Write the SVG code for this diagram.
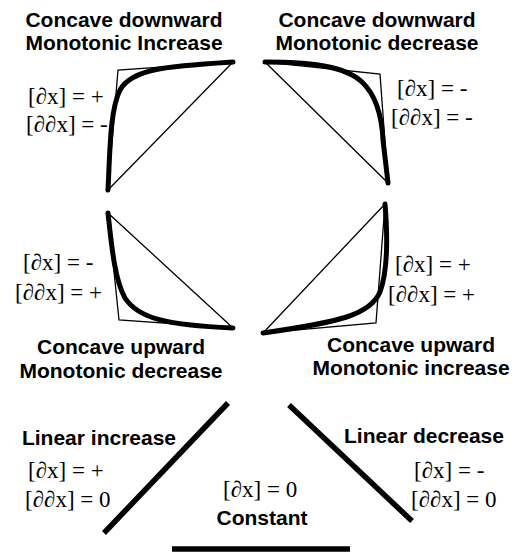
<svg xmlns="http://www.w3.org/2000/svg" width="519" height="560" viewBox="0 0 519 560">
<style>
.t{font-family:"Liberation Sans",Arial,sans-serif;font-weight:bold;font-size:21px;fill:#000;text-anchor:middle}
.m{font-family:"Liberation Serif","Times New Roman",serif;font-size:23px;fill:#000}
.thin{fill:none;stroke:#000;stroke-width:1.3}
.thick{fill:none;stroke:#000;stroke-width:5;stroke-linecap:round;stroke-linejoin:round}
.bar{fill:none;stroke:#000;stroke-width:5.5}
</style>
<rect width="519" height="560" fill="#fff"/>
<g id="concave-down-increase">
<polyline class="thin" points="108,190 118,70 233,62 108,190"/>
<path class="thick" d="M108,190 C110,150 110,110 120,90 C132,68 170,66 233,62"/>
<text class="t" x="124" y="27">Concave downward</text>
<text class="t" x="124" y="50">Monotonic Increase</text>
<text class="m" x="28" y="104">[∂x] = +</text>
<text class="m" x="26" y="132">[∂∂x] = -</text>
</g>
<g id="concave-down-decrease">
<polyline class="thin" points="265,62 380,74 388,183 265,62"/>
<path class="thick" d="M265,62 C310,62 345,66 362,82 C378,97 382,120 383,140 L388,183"/>
<text class="t" x="377" y="27">Concave downward</text>
<text class="t" x="377" y="50">Monotonic decrease</text>
<text class="m" x="397" y="96">[∂x] = -</text>
<text class="m" x="391" y="125">[∂∂x] = -</text>
</g>
<g id="concave-up-decrease">
<polyline class="thin" points="108,213 119,320 233,328 108,213"/>
<path class="thick" d="M108,213 C112,250 115,280 125,298 C138,318 165,325 233,328"/>
<text class="t" x="121" y="354">Concave upward</text>
<text class="t" x="121" y="378">Monotonic decrease</text>
<text class="m" x="23" y="270">[∂x] = -</text>
<text class="m" x="15" y="300">[∂∂x] = +</text>
</g>
<g id="concave-up-increase">
<polyline class="thin" points="385,204 376,323 263,333 385,204"/>
<path class="thick" d="M385,204 C388,240 388,270 380,292 C370,315 340,322 263,333"/>
<text class="t" x="411" y="352">Concave upward</text>
<text class="t" x="411" y="375">Monotonic increase</text>
<text class="m" x="395" y="272">[∂x] = +</text>
<text class="m" x="388" y="302">[∂∂x] = +</text>
</g>
<g id="linear-increase">
<line class="bar" x1="228" y1="403" x2="104" y2="533"/>
<text class="t" x="99" y="445">Linear increase</text>
<text class="m" x="28" y="478">[∂x] = +</text>
<text class="m" x="25" y="507">[∂∂x] = 0</text>
</g>
<g id="linear-decrease">
<line class="bar" x1="289" y1="405" x2="412" y2="521"/>
<text class="t" x="424" y="443">Linear decrease</text>
<text class="m" x="414" y="478">[∂x] = -</text>
<text class="m" x="411" y="507">[∂∂x] = 0</text>
</g>
<g id="constant">
<text class="m" x="223" y="497">[∂x] = 0</text>
<text class="t" x="262" y="525">Constant</text>
<line class="bar" x1="172" y1="549" x2="350" y2="549"/>
</g>
<g id="connectors"/>
</svg>
